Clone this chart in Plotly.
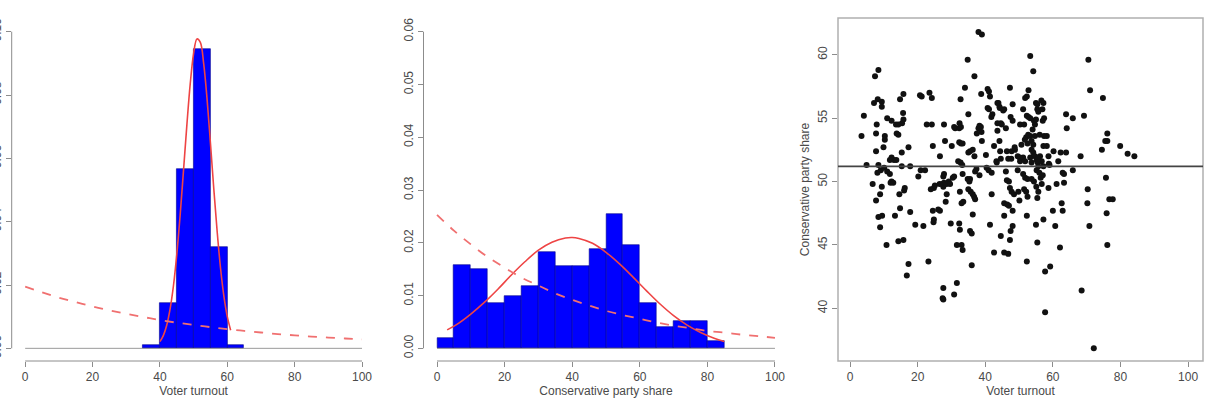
import plotly.graph_objects as go

# ---------------- data ----------------
# Left histogram: voter turnout (density, bin width 5)
turnout_bin_centers = [37.5, 42.5, 47.5, 52.5, 57.5, 62.5]
turnout_density = [0.0010, 0.0142, 0.0566, 0.0945, 0.0319, 0.0010]
turnout_norm_x = [40, 41, 42, 43, 44, 45, 46, 47, 48, 49, 50, 51, 52, 53, 54, 55, 56, 57, 58, 59, 60, 61]
turnout_norm_y = [0.0021, 0.0040, 0.0072, 0.0123, 0.0196, 0.0296, 0.0420, 0.0561, 0.0705, 0.0835,
                  0.0931, 0.0977, 0.0966, 0.0898, 0.0787, 0.0648, 0.0503, 0.0368, 0.0253, 0.0164,
                  0.0100, 0.0057]
turnout_exp_x = [0, 5, 10, 15, 20, 25, 30, 35, 40, 45, 50, 55, 60, 65, 70, 75, 80, 85, 90, 95, 100]
turnout_exp_y = [0.0195, 0.0177, 0.0160, 0.0146, 0.0132, 0.0120, 0.0109, 0.0099, 0.0089, 0.0081,
                 0.0074, 0.0067, 0.0061, 0.0055, 0.0050, 0.0045, 0.0041, 0.0037, 0.0034, 0.0031, 0.0028]

# Middle histogram: conservative party share (density, bin width 5)
share_bin_centers = [2.5, 7.5, 12.5, 17.5, 22.5, 27.5, 32.5, 37.5, 42.5, 47.5, 52.5, 57.5,
                     62.5, 67.5, 72.5, 77.5, 82.5]
share_density = [0.0020, 0.0157, 0.0151, 0.0086, 0.0099, 0.0118, 0.0183, 0.0156, 0.0156, 0.0189,
                 0.0255, 0.0195, 0.0085, 0.0040, 0.0052, 0.0052, 0.0014]
share_norm_x = [3, 6, 10, 14, 18, 22, 26, 30, 34, 38, 40, 42, 46, 50, 54, 58, 62, 66, 70, 74, 78, 82, 85]
share_norm_y = [0.0035, 0.0046, 0.0065, 0.0087, 0.0112, 0.0139, 0.0164, 0.0186, 0.0201, 0.0209, 0.0210,
                0.0208, 0.0199, 0.0182, 0.0160, 0.0135, 0.0109, 0.0084, 0.0062, 0.0044, 0.0030,
                0.0019, 0.0013]
share_exp_x = [0, 5, 10, 15, 20, 25, 30, 35, 40, 45, 50, 55, 60, 65, 70, 75, 80, 85, 90, 95, 100]
share_exp_y = [0.0253, 0.0223, 0.0197, 0.0173, 0.0153, 0.0134, 0.0119, 0.0104, 0.0092, 0.0081,
               0.0071, 0.0063, 0.0056, 0.0049, 0.0043, 0.0038, 0.0033, 0.0030, 0.0026, 0.0023, 0.0020]

# Right scatter: voter turnout vs conservative party share
scatter_points = [
    (38.0, 61.8), (39.0, 61.6), (34.8, 59.6), (53.3, 59.9), (70.5, 59.6), (8.4, 58.8), (7.4, 58.3),
    (36.8, 58.3), (54.2, 58.7), (71.0, 57.2), (34.0, 57.4), (40.7, 57.3), (41.1, 57.1), (23.5, 57.0),
    (24.2, 56.6), (20.7, 56.8), (21.2, 56.7), (15.8, 56.9), (14.8, 56.5), (8.2, 56.5), (9.4, 56.3),
    (9.4, 55.9), (7.1, 56.2), (4.1, 55.2), (3.4, 53.6), (4.9, 51.3), (6.7, 49.8), (7.9, 54.5),
    (7.7, 53.8), (7.7, 52.4), (8.4, 51.3), (9.1, 50.9), (8.1, 50.7), (10.1, 51.1), (11.0, 50.8),
    (10.3, 53.3), (10.3, 53.6), (9.9, 52.7), (11.0, 55.0), (12.3, 54.8), (13.6, 54.5), (14.3, 54.5),
    (13.8, 53.8), (14.3, 53.7), (12.3, 51.9), (13.0, 51.7), (11.8, 51.7), (11.8, 50.6), (12.3, 50.0),
    (12.0, 49.9), (12.8, 49.9), (15.3, 52.3), (15.8, 54.9), (17.3, 52.7), (15.3, 51.2), (17.8, 51.2),
    (9.4, 49.6), (8.9, 49.0), (7.7, 48.5), (16.0, 49.3), (14.6, 49.0), (8.4, 47.2), (9.5, 47.3),
    (8.9, 46.4), (10.8, 45.0), (13.3, 47.3), (14.8, 47.9), (17.8, 47.6), (14.3, 45.3), (15.8, 45.4),
    (17.3, 43.5), (16.8, 42.6), (19.3, 46.6), (21.7, 46.5), (20.2, 50.4), (20.9, 50.9), (22.2, 50.9),
    (22.7, 54.5), (24.2, 54.5), (24.5, 52.8), (23.9, 49.4), (24.8, 49.5), (24.5, 47.7), (24.8, 47.0),
    (24.7, 46.8), (26.1, 47.8), (26.6, 47.7), (23.2, 43.7), (26.6, 52.0), (27.3, 49.8), (27.6, 49.6),
    (27.8, 49.9), (28.6, 49.8), (29.2, 50.0), (29.6, 49.8), (27.6, 50.4), (27.8, 54.5), (28.1, 53.2),
    (28.6, 49.0), (28.3, 48.4), (30.1, 52.8), (30.4, 50.3), (31.1, 54.2), (32.3, 54.2), (32.7, 56.5),
    (32.4, 54.6), (32.3, 53.1), (32.8, 53.0), (33.3, 53.0), (32.0, 51.6), (32.7, 51.5), (33.2, 51.3),
    (33.3, 50.6), (32.5, 49.2), (33.0, 48.3), (33.5, 48.4), (29.8, 46.7), (32.3, 46.7), (32.5, 46.2),
    (31.6, 45.0), (33.0, 45.0), (33.3, 44.6), (27.6, 41.6), (27.4, 40.8), (27.6, 40.7), (31.6, 42.0),
    (30.8, 41.1), (35.0, 55.3), (35.0, 52.3), (35.5, 52.4), (34.8, 50.2), (35.5, 50.2), (35.3, 50.0),
    (35.0, 49.4), (35.7, 49.2), (36.3, 49.0), (36.7, 48.8), (37.0, 48.6), (36.3, 47.4), (35.5, 46.1),
    (36.0, 45.9), (36.0, 43.4), (38.0, 54.2), (38.3, 54.4), (37.5, 53.8), (39.0, 53.2), (36.8, 52.0),
    (36.3, 52.5), (38.3, 50.5), (37.0, 50.8), (38.8, 56.9), (40.2, 52.1), (40.7, 55.8), (41.1, 55.7),
    (41.4, 56.7), (41.8, 55.1), (40.4, 51.1), (41.0, 50.9), (41.9, 50.7), (41.9, 49.0), (41.4, 46.6),
    (42.6, 44.4), (42.6, 52.8), (43.4, 51.5), (43.6, 54.0), (43.9, 56.2), (44.2, 55.9), (44.6, 54.6),
    (44.9, 54.5), (45.6, 55.7), (45.6, 48.3), (45.6, 47.3), (44.6, 45.7), (45.6, 44.4), (46.8, 44.3),
    (44.2, 53.2), (44.4, 52.4), (46.1, 54.2), (46.4, 52.4), (46.8, 51.8), (46.1, 50.8), (46.4, 50.1),
    (47.0, 50.0), (46.5, 48.2), (47.0, 48.1), (47.3, 45.4), (47.5, 46.1), (48.1, 46.5), (47.3, 57.4),
    (47.5, 55.1), (48.1, 54.8), (47.8, 52.4), (47.3, 49.5), (47.8, 49.2), (48.5, 49.0), (48.1, 47.7),
    (48.1, 56.1), (50.3, 54.5), (48.8, 52.5), (49.6, 52.0), (50.3, 51.6), (49.6, 50.9), (49.8, 49.2),
    (50.1, 48.5), (51.2, 55.7), (51.5, 54.5), (52.3, 55.2), (52.8, 55.1), (53.3, 55.0), (51.8, 56.6),
    (52.3, 56.7), (52.8, 57.2), (52.1, 53.5), (52.5, 53.0), (51.2, 51.9), (51.8, 51.6), (51.2, 50.6),
    (51.8, 50.3), (52.5, 50.2), (51.5, 49.4), (52.1, 49.2), (52.5, 48.8), (52.3, 47.3), (52.3, 43.7),
    (53.3, 53.6), (53.7, 53.2), (54.2, 52.9), (54.7, 53.6), (54.0, 54.1), (54.7, 54.5), (54.4, 54.8),
    (55.0, 54.9), (53.7, 52.5), (54.2, 52.3), (54.7, 52.0), (55.2, 51.7), (55.5, 51.5), (55.7, 51.2),
    (55.2, 50.9), (56.0, 50.7), (53.3, 51.9), (53.7, 51.5), (55.0, 56.2), (55.4, 55.7), (55.7, 55.5),
    (56.2, 52.0), (56.7, 51.6), (57.2, 51.2), (56.4, 50.3), (56.7, 49.8), (55.7, 49.2), (55.4, 48.7),
    (55.0, 46.6), (55.4, 45.2), (57.2, 56.2), (56.9, 55.7), (57.0, 54.8), (57.4, 55.0), (57.4, 53.6),
    (58.2, 53.6), (58.2, 52.8), (57.2, 52.8), (57.0, 50.5), (58.7, 52.0), (59.0, 51.3), (58.7, 49.5),
    (57.2, 47.0), (57.7, 42.9), (59.2, 43.3), (57.7, 39.7), (60.0, 47.7), (60.7, 46.5), (60.2, 52.4),
    (61.1, 49.8), (61.6, 51.6), (62.3, 52.3), (62.1, 44.8), (62.9, 50.7), (63.3, 50.6), (62.6, 48.3),
    (62.9, 47.7), (63.9, 55.3), (64.1, 54.2), (63.9, 52.3), (63.3, 49.9), (65.9, 55.0), (65.9, 50.9),
    (68.2, 52.0), (68.5, 41.4), (69.2, 55.2), (70.3, 49.4), (70.2, 48.3), (70.8, 46.5), (74.5, 52.5),
    (74.8, 56.6), (75.5, 53.2), (76.1, 53.2), (76.1, 53.8), (75.7, 50.3), (75.9, 47.5), (76.1, 45.0),
    (76.7, 48.6), (77.7, 48.6), (79.9, 52.8), (82.1, 52.2), (84.1, 52.0), (72.1, 36.85),
    (25.1, 49.7), (26.5, 49.8), (30.8, 50.4), (16.2, 49.5), (27.8, 50.6), (13.7, 51.7), (30.8, 54.3),
    (15.4, 54.6), (15.7, 55.4), (42.1, 55.3), (32.8, 54.3), (38.7, 54.3), (38.9, 53.9), (43.6, 54.6),
    (43.6, 56.2), (44.3, 55.8), (45.3, 55.6), (55.4, 56.1), (56.6, 56.4), (43.3, 51.6), (44.6, 51.8),
    (47.7, 51.8), (48.7, 52.7), (50.2, 51.9), (50.7, 52.9), (51.7, 53.3), (52.7, 53.7), (55.6, 51.8),
    (56.1, 53.7), (58.8, 51.4), (53.7, 50.2), (54.4, 50.0), (55.1, 49.6), (37.4, 51.0),
]
scatter_turnout = [p[0] for p in scatter_points]
scatter_share = [p[1] for p in scatter_points]
share_mean_line = 51.2

x_ticks = [0, 20, 40, 60, 80, 100]
left_y_ticks = [0.00, 0.02, 0.04, 0.06, 0.08, 0.10]
left_y_labels = ["0.00", "0.02", "0.04", "0.06", "0.08", "0.10"]
mid_y_ticks = [0.00, 0.01, 0.02, 0.03, 0.04, 0.05, 0.06]
mid_y_labels = ["0.00", "0.01", "0.02", "0.03", "0.04", "0.05", "0.06"]
right_y_ticks = [40, 45, 50, 55, 60]

# ---------------- styling ----------------
W, H = 1211, 404
FONT = "Liberation Sans, Arial, sans-serif"
TXT = "#4a4a4a"
AX = "#8c8c8c"
BLUE = "#0000ff"
RED = "#ee4444"
RED_DASH = "#f07070"


def px(x):
    return x / W


def py(y):
    return 1 - y / H


fig = go.Figure()

# Left panel
fig.add_trace(go.Bar(x=turnout_bin_centers, y=turnout_density, width=5,
                     marker=dict(color=BLUE, line=dict(color="#00008b", width=0.6)),
                     xaxis="x", yaxis="y", showlegend=False))
fig.add_trace(go.Scatter(x=turnout_norm_x, y=turnout_norm_y, mode="lines",
                         line=dict(color=RED, width=1.6, shape="spline"),
                         xaxis="x", yaxis="y", showlegend=False))
fig.add_trace(go.Scatter(x=turnout_exp_x, y=turnout_exp_y, mode="lines",
                         line=dict(color=RED_DASH, width=1.8, dash="dash", shape="spline"),
                         xaxis="x", yaxis="y", showlegend=False))

# Middle panel
fig.add_trace(go.Bar(x=share_bin_centers, y=share_density, width=5,
                     marker=dict(color=BLUE, line=dict(color="#00008b", width=0.6)),
                     xaxis="x2", yaxis="y2", showlegend=False))
fig.add_trace(go.Scatter(x=share_norm_x, y=share_norm_y, mode="lines",
                         line=dict(color=RED, width=1.6, shape="spline"),
                         xaxis="x2", yaxis="y2", showlegend=False))
fig.add_trace(go.Scatter(x=share_exp_x, y=share_exp_y, mode="lines",
                         line=dict(color=RED_DASH, width=1.8, dash="dash", shape="spline"),
                         xaxis="x2", yaxis="y2", showlegend=False))

# Right panel
fig.add_trace(go.Scatter(x=scatter_turnout, y=scatter_share, mode="markers",
                         marker=dict(color="#111111", size=6),
                         xaxis="x3", yaxis="y3", showlegend=False))

tickfont = dict(family=FONT, size=12, color=TXT)
titlefont = dict(family=FONT, size=12, color=TXT)

common_x = dict(showgrid=False, zeroline=False, showline=False, ticks="outside", ticklen=5,
                tickcolor=AX, tickwidth=1, tickvals=x_ticks, tickfont=tickfont, automargin=False)
common_y = dict(showgrid=False, zeroline=False, showline=False, ticks="outside", ticklen=5,
                tickcolor=AX, tickwidth=1, tickfont=tickfont, tickangle=-90, automargin=False)

fig.update_layout(
    width=W, height=H, margin=dict(l=0, r=0, t=0, b=0),
    paper_bgcolor="white", plot_bgcolor="white", template="none",
    bargap=0,
    xaxis=dict(**common_x, domain=[px(11.7), px(375.5)], range=[-4, 104], anchor="y",
               title=dict(text="Voter turnout", font=titlefont, standoff=2)),
    yaxis=dict(**common_y, domain=[py(361), py(19)], range=[-0.004, 0.104], anchor="x",
               tickvals=left_y_ticks, ticktext=left_y_labels),
    xaxis2=dict(**common_x, domain=[px(423.5), px(788.5)], range=[-4, 104], anchor="y2",
                title=dict(text="Conservative party share", font=titlefont, standoff=2)),
    yaxis2=dict(**common_y, domain=[py(361), py(19)], range=[-0.0024, 0.0624], anchor="x2",
                tickvals=mid_y_ticks, ticktext=mid_y_labels),
    xaxis3=dict(**common_x, domain=[px(838), px(1203)], range=[-3.55, 104.4], anchor="y3",
                title=dict(text="Voter turnout", font=titlefont, standoff=2)),
    yaxis3=dict(**common_y, domain=[py(361), py(18)], range=[35.85, 62.9], anchor="x3",
                tickvals=right_y_ticks,
                title=dict(text="Conservative party share", font=titlefont, standoff=4)),
)

# R-style axis lines spanning only the tick range, plus histogram baselines
shapes = [
    dict(type="line", xref="x", yref="y domain", x0=0, x1=100, y0=0, y1=0, line=dict(color=AX, width=1)),
    dict(type="line", xref="x domain", yref="y", x0=0, x1=0, y0=0, y1=0.10, line=dict(color=AX, width=1)),
    dict(type="line", xref="x", yref="y", x0=0, x1=100, y0=0, y1=0, line=dict(color="#9a9a9a", width=1), layer="below"),
    dict(type="line", xref="x2", yref="y2 domain", x0=0, x1=100, y0=0, y1=0, line=dict(color=AX, width=1)),
    dict(type="line", xref="x2 domain", yref="y2", x0=0, x1=0, y0=0, y1=0.06, line=dict(color=AX, width=1)),
    dict(type="line", xref="x2", yref="y2", x0=0, x1=100, y0=0, y1=0, line=dict(color="#9a9a9a", width=1), layer="below"),
    dict(type="rect", xref="x3 domain", yref="y3 domain", x0=0, x1=1, y0=0, y1=1,
         line=dict(color="#b0b0b0", width=1.5)),
    dict(type="line", xref="x3 domain", yref="y3", x0=0, x1=1, y0=share_mean_line, y1=share_mean_line,
         line=dict(color="#444444", width=1.8)),
]
fig.update_layout(shapes=shapes)

fig.write_html("out.html")
